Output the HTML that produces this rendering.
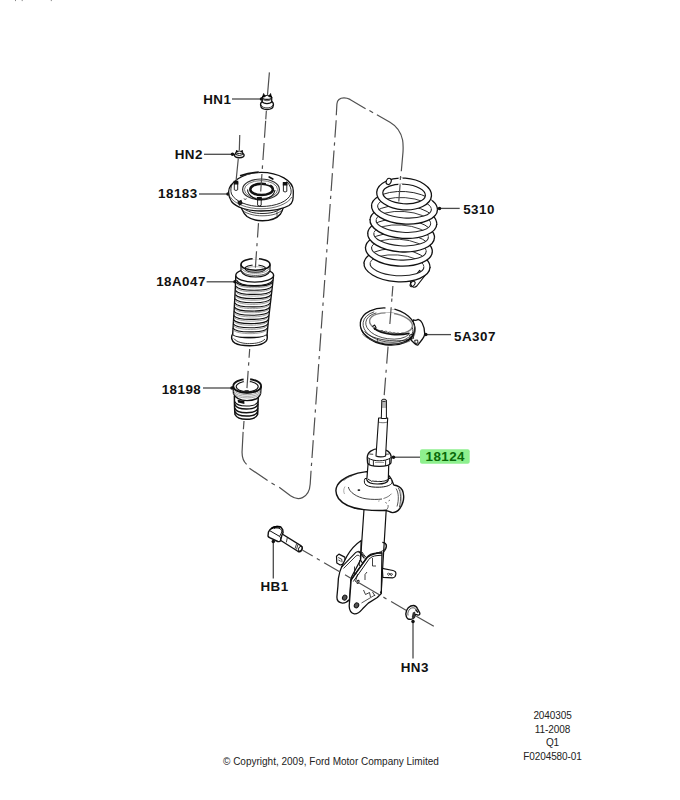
<!DOCTYPE html>
<html><head><meta charset="utf-8"><style>
html,body{margin:0;padding:0;background:#fff;width:680px;height:800px;overflow:hidden}
svg{display:block}
.lb{font-family:"Liberation Sans",sans-serif;font-weight:bold;font-size:13.4px;letter-spacing:0.45px;fill:#111}
.sm{font-family:"Liberation Sans",sans-serif;font-size:10px;letter-spacing:-0.1px;fill:#222}
.ld{stroke:#4a4a4a;stroke-width:1.3;fill:none}
.cl{stroke:#555;stroke-width:1;fill:none;stroke-dasharray:24 3.5 3 3.5}
.o{fill:#fff;stroke-linejoin:round}
.on{fill:none;stroke-linejoin:round}
.t{stroke:#333;stroke-width:.8;fill:none}
</style></head><body>
<svg width="680" height="800" viewBox="0 0 680 800">
<rect width="680" height="800" fill="#fff"/>



<!-- top marks -->
<path d="M15.5 0V1.1M22.2 0V1.1M51.3 0V1.1" stroke="#888" stroke-width="1"/>
<!-- labels -->
<g id="labels">
<text class="lb" x="231.3" y="103.5" text-anchor="end">HN1</text>
<path class="ld" d="M232 99 H262"/><circle cx="261.5" cy="99" r="1.75" fill="#111"/>
<text class="lb" x="202.8" y="158.7" text-anchor="end">HN2</text>
<path class="ld" d="M204 154.3 H233"/><circle cx="232.5" cy="154.3" r="1.75" fill="#111"/>
<text class="lb" x="197.6" y="198.4" text-anchor="end">18183</text>
<path class="ld" d="M199 194 H228"/><circle cx="228" cy="194" r="1.75" fill="#111"/>
<text class="lb" x="205.8" y="286" text-anchor="end">18A047</text>
<path class="ld" d="M206.6 281.8 H235"/><circle cx="235" cy="281.8" r="1.75" fill="#111"/>
<text class="lb" x="201.2" y="393.5" text-anchor="end">18198</text>
<path class="ld" d="M203 388 H232"/><circle cx="232" cy="388" r="1.75" fill="#111"/>

<text class="lb" x="463.2" y="214.3">5310</text>
<path class="ld" d="M439 208.4 H459.7"/><circle cx="439.5" cy="208.4" r="1.75" fill="#111"/>
<text class="lb" x="454.1" y="340.7">5A307</text>
<path class="ld" d="M425.4 334.6 H451"/><circle cx="425.8" cy="334.6" r="1.75" fill="#111"/>
<rect x="420" y="449.3" width="49.7" height="14.5" rx="2" fill="#8ef08e"/>
<text class="lb" x="425.5" y="461.4" style="fill:#0a6a0a">18124</text>
<path class="ld" d="M393 457.2 H420"/><circle cx="393.5" cy="457.2" r="1.75" fill="#111"/>

<text class="lb" x="260.5" y="590.5">HB1</text>
<path class="ld" d="M273.3 541 V578.5"/><circle cx="273.3" cy="541.5" r="1.75" fill="#111"/>
<text class="lb" x="400.7" y="671.5">HN3</text>
<path class="ld" d="M413 621 V658.5"/><circle cx="413" cy="621.5" r="1.75" fill="#111"/>

<text class="sm" x="552.5" y="718.8" text-anchor="middle">2040305</text>
<text class="sm" x="552.5" y="732.5" text-anchor="middle">11-2008</text>
<text class="sm" x="552.5" y="746.2" text-anchor="middle">Q1</text>
<text class="sm" x="552.5" y="760" text-anchor="middle">F0204580-01</text>
<text class="sm" x="223" y="765.1" style="letter-spacing:0">© Copyright, 2009, Ford Motor Company Limited</text>
</g>

<!-- PARTS -->
<g stroke="#111" stroke-width="1.2">
<!-- HN1 nut -->
<g id="hn1">
<path class="o" d="M260.6 104.2 C260.6 101.5 263 100.6 267 100.6 C271 100.6 273.4 101.5 273.4 104.2 L273.3 105.5 C273 108.3 270.5 109.5 267 109.5 C263.5 109.5 261 108.3 260.7 105.5Z" stroke-width="1.4"/>
<path class="on" d="M261.3 105.2 C262 107.2 264.5 107.9 267 107.9 C269.5 107.9 272 107.2 272.7 105.2" stroke-width=".8"/>
<path class="o" d="M262.3 97.3 L262.3 101.8 C263 103.2 265 103.6 267 103.6 C269 103.6 271 103.2 271.7 101.8 L271.7 97.3Z" stroke-width="1.3"/>
<ellipse class="o" cx="267" cy="97.4" rx="4.7" ry="1.9" stroke-width="1.2"/>
<path d="M262.3 97.5 L263.6 93.4 L265.4 96.6Z M268.6 96.6 L270.6 93.4 L271.7 97.5Z" fill="#000" stroke="#000" stroke-width=".6"/>
<path class="on" d="M263.5 100 Q267 101.5 270.5 100" stroke-width=".7"/>
</g>
<!-- HN2 nut -->
<g id="hn2">
<ellipse class="o" cx="239.3" cy="155.3" rx="4.8" ry="2.4" stroke-width="1.4"/>
<path class="o" d="M236 152.2 L236 154.6 Q239.3 156.4 242.6 154.6 L242.6 152.2Z" stroke-width="1"/>
<ellipse class="o" cx="239.3" cy="152.3" rx="3.3" ry="1.2" stroke-width="1"/>
<path d="M235.8 152.4 L236.6 150 L237.8 151.8Z M240.9 151.8 L242.3 150 L242.8 152.4Z" fill="#000" stroke="#000" stroke-width=".5"/>
</g>
<!-- 18183 mount -->
<g id="m18183">
<path class="o" d="M239.5 199 C240 205 242 212 247 216.5 C252 220 258 220.8 262.5 220.8 C268 220.8 276 219.5 280.5 214 C283 210 284.3 205 284.5 199Z" stroke-width="1.4"/>
<path class="on" d="M241.5 207 C247 212 255 213.5 262 213.5 C270 213.5 278 212 283 207" stroke-width=".9"/>
<path class="on" d="M242.5 210.5 C248 214.5 256 215.8 262 215.8 C270 215.8 277 214.5 281.6 210.5" stroke-width=".7"/>
<path class="on" d="M277 211.5 V216" stroke-width=".7"/>
<!-- flange -->
<path class="o" d="M228.6 192 C228.6 183 243 172.3 261 172.3 C279 172.3 293.3 181 293.3 191 C293.3 200 293 203 289 205.5 C282 209.5 272 211 261 211 C248 211 236 207.5 231.5 201.5 C229.5 198.5 228.6 195 228.6 192Z" stroke-width="1.3"/>
<path class="on" d="M232.5 183.5 C230.5 187 230.5 191 231.5 194 C235 201.5 248 206.5 261 206.5 C276 206.5 288 201.5 290.8 194 C291.8 190.5 290.5 185 286.5 181.5" stroke-width=".9"/>
<path class="on" d="M230 196.5 C234 204 248 208.8 261 208.8 C275 208.8 288 204 291.8 197" stroke-width=".6"/>
<path d="M244 174.2 C249 172.9 254 172.4 258.8 172.2 M236 178.5 L233 180.5" stroke="#fff" stroke-width="2" fill="none"/>
<path d="M240 175.8 C246 173.8 252 172.6 258.8 172.1" stroke="#111" stroke-width="1.6" fill="none"/>
<!-- inner rings -->
<ellipse class="on" cx="261" cy="189.4" rx="18.4" ry="10.4" stroke-width="1.2" stroke="#333"/>
<ellipse class="on" cx="261" cy="189.6" rx="16.6" ry="9" stroke-width=".8" stroke="#555"/>
<ellipse class="on" cx="261.6" cy="189.4" rx="11.3" ry="5.7" stroke-width="2.5"/>
<path d="M266 183.4 L270.5 184.6" stroke="#fff" stroke-width="1.2"/>
<path class="on" d="M247.5 189.5 C248 196 255 199.6 261 199.6 C268 199.6 274 196 275 190" stroke-width="1.1"/>
<path d="M269.2 177 L272.8 179" stroke="#111" stroke-width="1.7" stroke-linecap="round"/>
<!-- studs -->
<path class="o" d="M234.3 182 V189.8 Q236 191.2 237.7 189.8 V182Z" stroke-width=".9"/>
<path d="M234.3 181.3 H237.7 V183.8 H234.3Z" fill="#111"/>
<path class="o" d="M283.4 183.5 V191.3 Q285.1 192.7 286.8 191.3 V183.5Z" stroke-width=".9"/>
<path d="M283.4 182.6 H286.8 V185 H283.4Z" fill="#111"/>
<path class="o" d="M257.6 198.5 V205.3 Q259.4 206.7 261.2 205.3 V198.5Z" stroke-width=".9"/>
<path d="M257.6 197.5 H261.2 V200 H257.6Z" fill="#111"/>
<path d="M238 202 L241 200.5 L242 203.5 L239.5 205Z" fill="#222"/>
<path class="on" d="M244 198.5 a1.2 .9 0 1 0 2.4 0" stroke-width=".7"/>
</g>
<!-- 18A047 boot -->
<g id="boot">
<path class="o" d="M235.8 276 C235 300 233.5 320 232.5 337.5 L266.9 337.5 C268 320 271 300 273.5 276Z" stroke-width="1.4"/>
<ellipse class="o" cx="254.7" cy="275.2" rx="18.9" ry="6.9" stroke-width="1.4"/>
<path class="on" d="M236.5 280 C240 287.5 268.5 287.5 273 280" stroke-width="1.1"/>
<path d="M241 264.4 V271 C243 275.5 249 277 255.5 277 C262 277 268 275.5 270 271 V264.4Z" fill="#fff" stroke="none"/><path class="on" d="M241 264.4 V271 C243 275.5 249 277 255.5 277 C262 277 268 275.5 270 271 V264.4" stroke-width="1.2"/>
<path class="on" d="M241.5 270.5 C244 274.6 250 275.4 255.5 275.4 C261 275.4 267 274.6 269.5 270.5" stroke-width=".7"/>
<path class="on" d="M241.5 268 C244 272.5 250 273.3 255.5 273.3 C261 273.3 267 272.5 269.5 268" stroke-width=".7" stroke="#666"/>
<ellipse class="on" cx="255.5" cy="264.4" rx="14.5" ry="5.9" stroke-width="1.6"/>
<ellipse class="on" cx="255.3" cy="268.6" rx="10.3" ry="3.6" stroke-width="1.1"/>
<ellipse class="on" cx="255.3" cy="269.2" rx="9" ry="2.6" stroke-width=".6" stroke="#777"/>
<path d="M252.6 258.5 h6.4 M252.6 265 h5.8" stroke="#fff" stroke-width="2.6"/>
<g id="corr" class="on" stroke-width="1.15">
<path d="M236.29 282.10 C239.29 287.40 269.59 287.40 272.59 282.10"/>
<path d="M235.98 286.27 C238.98 291.57 269.12 291.57 272.12 286.27"/>
<path d="M235.66 290.44 C238.66 295.74 268.65 295.74 271.65 290.44"/>
<path d="M235.34 294.61 C238.34 299.91 268.19 299.91 271.19 294.61"/>
<path d="M235.02 298.78 C238.02 304.08 267.72 304.08 270.72 298.78"/>
<path d="M234.71 302.95 C237.71 308.25 267.25 308.25 270.25 302.95"/>
<path d="M234.39 307.12 C237.39 312.42 266.79 312.42 269.79 307.12"/>
<path d="M234.07 311.29 C237.07 316.59 266.32 316.59 269.32 311.29"/>
<path d="M233.76 315.46 C236.76 320.76 265.85 320.76 268.85 315.46"/>
<path d="M233.44 319.63 C236.44 324.93 265.39 324.93 268.39 319.63"/>
<path d="M233.12 323.80 C236.12 329.10 264.92 329.10 267.92 323.80"/>
<path d="M232.81 327.97 C235.81 333.27 264.45 333.27 267.45 327.97"/>
</g>
<g class="on" stroke-width=".7" stroke="#777">
<path d="M236.56 283.80 C239.56 289.10 269.00 289.10 272.00 283.80"/>
<path d="M236.25 287.97 C239.25 293.27 268.53 293.27 271.53 287.97"/>
<path d="M235.93 292.14 C238.93 297.44 268.06 297.44 271.06 292.14"/>
<path d="M235.61 296.31 C238.61 301.61 267.60 301.61 270.60 296.31"/>
<path d="M235.30 300.48 C238.30 305.78 267.13 305.78 270.13 300.48"/>
<path d="M234.98 304.65 C237.98 309.95 266.66 309.95 269.66 304.65"/>
<path d="M234.66 308.82 C237.66 314.12 266.20 314.12 269.20 308.82"/>
<path d="M234.34 312.99 C237.34 318.29 265.73 318.29 268.73 312.99"/>
<path d="M234.03 317.16 C237.03 322.46 265.26 322.46 268.26 317.16"/>
<path d="M233.71 321.33 C236.71 326.63 264.80 326.63 267.80 321.33"/>
<path d="M233.39 325.50 C236.39 330.80 264.33 330.80 267.33 325.50"/>
<path d="M233.08 329.67 C236.08 334.97 263.86 334.97 266.86 329.67"/>
</g>
<path d="M232.3 334.5 C231 337 231.5 341 235 343.2 C239 345.5 245 345.8 249.6 345.8 C256 345.8 262.5 344.6 265.8 341.5 C267.6 339.5 267.4 336.5 266.6 334.5 C261 339.5 238 339.5 232.3 334.5Z" fill="#fff" stroke="none"/><path class="on" d="M232.3 334.5 C231 337 231.5 341 235 343.2 C239 345.5 245 345.8 249.6 345.8 C256 345.8 262.5 344.6 265.8 341.5 C267.6 339.5 267.4 336.5 266.6 334.5" stroke-width="1.4"/><path class="on" d="M232.6 334.8 C238 339 261 339 266.4 334.8" stroke-width=".9"/>
<path class="on" d="M233.8 338.5 C237 342.6 244 343.6 249.6 343.6 C256 343.6 262 342.4 265 339" stroke-width=".8"/>
</g>
<!-- 18198 bump stop -->
<g id="bump">
<path class="o" d="M234.4 396 C234.4 403 234.6 410 235 414.5 C237 418.4 242 419.3 246.2 419.3 C251 419.3 256 418.2 257.6 414.5 C257.9 410 258 403 258.3 396Z" stroke-width="1.5"/>
<g class="on">
<path d="M234.7 401.5 C237 407.5 256 407.5 258.1 401.5" stroke-width="1.1"/>
<path d="M234.8 404.2 C237 410.6 256 410.6 258 404.2" stroke-width="1.4"/>
<path d="M234.9 408.2 C237 414.2 255.8 414.2 257.9 408.2" stroke-width="1.4"/>
<path d="M235 411.6 C237.2 417.6 255.6 417.6 257.7 411.6" stroke-width="1.5"/>
</g>
<path d="M237.6 399.8 L244.4 401 L244.4 403.9 L238 402.6Z" fill="#111" stroke="none"/>
<path d="M233.1 386 L233.5 393.5 C236 399.6 242 400.6 247 400.6 C253 400.6 259 399 260.6 393.5 L261.1 386Z" fill="#fff" stroke="none"/>
<path class="on" d="M233.1 386 L233.5 393.5 C236 399.6 242 400.6 247 400.6 C253 400.6 259 399 260.6 393.5 L261.1 386" stroke-width="1.4"/>
<g class="on" stroke="#888" stroke-width=".75">
<path d="M233.3 389.5 C236 396.5 258.6 396.5 261 389.5"/>
<path d="M233.4 391.3 C236 398.1 258.5 398.1 260.9 391.3"/>
<path d="M233.5 393 C236 399.6 258.3 399.6 260.7 393"/>
</g>
<path class="on" d="M233.2 387.7 C235.8 394.7 258.6 394.7 261.1 387.7" stroke-width="1"/>
<ellipse class="on" cx="247.2" cy="386" rx="13.9" ry="6.9" stroke-width="1.8"/>
<ellipse class="on" cx="247.2" cy="386.6" rx="11" ry="5.2" stroke-width="1.1"/>
<path d="M243.6 379 L250.1 379 M243.8 381.4 L249.8 381.4" stroke="#fff" stroke-width="2.6"/>
<path d="M243.5 391.8 C245 390.2 248.5 390.2 250 391.8 Z" fill="#222" stroke="#222" stroke-width="1"/>
</g>
<!-- 5310 spring -->
<g id="spring">
<path class="o" d="M419.5 270.5 L410.8 281.5 C410 283.5 411 286.5 413.5 287.2 C415 287.5 416 286.8 416.8 286 L425 275.5Z" stroke-width="1.2"/>
<ellipse class="on" cx="412.6" cy="284" rx="1.9" ry="3.1" transform="rotate(40 412.6 284)" stroke-width="1"/>
<g transform="rotate(4 397.0 265.3)"><path d="M363.97 265.87A33.05 16.45 0 1 1 430.03 265.87L423.93 265.66A26.95 10.35 0 1 0 370.07 265.66Z" fill="#fff" stroke="none"/><path d="M368.97 256.58A33.05 16.45 0 0 1 425.03 256.58" fill="none" stroke="#222" stroke-width=".95"/><path d="M370.15 264.40A26.95 10.35 0 0 1 423.85 264.40" fill="none" stroke="#2a2a2a" stroke-width=".9"/><path d="M363.97 265.87A33.05 16.45 0 0 1 369.60 256.10M424.40 256.10A33.05 16.45 0 0 1 430.03 265.87" fill="none" stroke="#111" stroke-width="1.3"/></g>
<g transform="rotate(4 398.9 249.6)"><path d="M365.47 250.17A33.45 16.45 0 1 1 432.33 250.17L426.23 249.96A27.35 10.35 0 1 0 371.57 249.96Z" fill="#fff" stroke="none"/><path d="M370.53 240.88A33.45 16.45 0 0 1 427.27 240.88" fill="none" stroke="#222" stroke-width=".95"/><path d="M371.65 248.70A27.35 10.35 0 0 1 426.15 248.70" fill="none" stroke="#2a2a2a" stroke-width=".9"/><path d="M365.47 250.17A33.45 16.45 0 0 1 371.17 240.40M426.63 240.40A33.45 16.45 0 0 1 432.33 250.17" fill="none" stroke="#111" stroke-width="1.3"/></g>
<g transform="rotate(4 401.1 235.4)"><path d="M367.67 235.97A33.45 16.45 0 1 1 434.53 235.97L428.43 235.76A27.35 10.35 0 1 0 373.77 235.76Z" fill="#fff" stroke="none"/><path d="M372.73 226.68A33.45 16.45 0 0 1 429.47 226.68" fill="none" stroke="#222" stroke-width=".95"/><path d="M373.85 234.50A27.35 10.35 0 0 1 428.35 234.50" fill="none" stroke="#2a2a2a" stroke-width=".9"/><path d="M367.67 235.97A33.45 16.45 0 0 1 373.37 226.20M428.83 226.20A33.45 16.45 0 0 1 434.53 235.97" fill="none" stroke="#111" stroke-width="1.3"/></g>
<g transform="rotate(4 403.4 221.9)"><path d="M369.97 222.47A33.45 16.45 0 1 1 436.83 222.47L430.73 222.26A27.35 10.35 0 1 0 376.07 222.26Z" fill="#fff" stroke="none"/><path d="M375.03 213.18A33.45 16.45 0 0 1 431.77 213.18" fill="none" stroke="#222" stroke-width=".95"/><path d="M376.15 221.00A27.35 10.35 0 0 1 430.65 221.00" fill="none" stroke="#2a2a2a" stroke-width=".9"/><path d="M369.97 222.47A33.45 16.45 0 0 1 375.67 212.70M431.13 212.70A33.45 16.45 0 0 1 436.83 222.47" fill="none" stroke="#111" stroke-width="1.3"/></g>
<g transform="rotate(4 404.5 207.8)"><path d="M371.47 208.37A33.05 16.25 0 1 1 437.53 208.37L431.43 208.15A26.95 10.15 0 1 0 377.57 208.15Z" fill="#fff" stroke="none"/><path d="M376.47 199.19A33.05 16.25 0 0 1 432.53 199.19" fill="none" stroke="#222" stroke-width=".95"/><path d="M377.65 206.92A26.95 10.15 0 0 1 431.35 206.92" fill="none" stroke="#2a2a2a" stroke-width=".9"/><path d="M371.47 208.37A33.05 16.25 0 0 1 377.10 198.71M431.90 198.71A33.05 16.25 0 0 1 437.53 208.37" fill="none" stroke="#111" stroke-width="1.3"/></g>
<g transform="rotate(4 397.0 265.3)"><path d="M430.03 264.73A33.05 16.45 0 1 1 363.97 264.73L370.07 264.94A26.95 10.35 0 1 0 423.93 264.94Z" fill="#fff" stroke="none"/><path d="M430.03 264.73A33.05 16.45 0 1 1 363.97 264.73" fill="none" stroke="#111" stroke-width="1.3"/><path d="M423.88 264.58A26.95 10.35 0 1 1 370.12 264.58" fill="none" stroke="#222" stroke-width="1.05"/></g>
<g transform="rotate(4 398.9 249.6)"><path d="M432.33 249.03A33.45 16.45 0 1 1 365.47 249.03L371.57 249.24A27.35 10.35 0 1 0 426.23 249.24Z" fill="#fff" stroke="none"/><path d="M432.33 249.03A33.45 16.45 0 1 1 365.47 249.03" fill="none" stroke="#111" stroke-width="1.3"/><path d="M426.18 248.88A27.35 10.35 0 1 1 371.62 248.88" fill="none" stroke="#222" stroke-width="1.05"/></g>
<g transform="rotate(4 401.1 235.4)"><path d="M434.53 234.83A33.45 16.45 0 1 1 367.67 234.83L373.77 235.04A27.35 10.35 0 1 0 428.43 235.04Z" fill="#fff" stroke="none"/><path d="M434.53 234.83A33.45 16.45 0 1 1 367.67 234.83" fill="none" stroke="#111" stroke-width="1.3"/><path d="M428.38 234.68A27.35 10.35 0 1 1 373.82 234.68" fill="none" stroke="#222" stroke-width="1.05"/></g>
<g transform="rotate(4 403.4 221.9)"><path d="M436.83 221.33A33.45 16.45 0 1 1 369.97 221.33L376.07 221.54A27.35 10.35 0 1 0 430.73 221.54Z" fill="#fff" stroke="none"/><path d="M436.83 221.33A33.45 16.45 0 1 1 369.97 221.33" fill="none" stroke="#111" stroke-width="1.3"/><path d="M430.68 221.18A27.35 10.35 0 1 1 376.12 221.18" fill="none" stroke="#222" stroke-width="1.05"/></g>
<g transform="rotate(4 404.5 207.8)"><path d="M437.53 207.23A33.05 16.25 0 1 1 371.47 207.23L377.57 207.45A26.95 10.15 0 1 0 431.43 207.45Z" fill="#fff" stroke="none"/><path d="M437.53 207.23A33.05 16.25 0 1 1 371.47 207.23" fill="none" stroke="#111" stroke-width="1.3"/><path d="M431.38 207.09A26.95 10.15 0 1 1 377.62 207.09" fill="none" stroke="#222" stroke-width="1.05"/></g>
<g transform="rotate(4 404.1 194.0)"><path d="M431.55 194.00A27.45 15.85 0 1 1 431.55 193.97ZM425.45 194.00A21.35 9.75 0 1 1 425.45 193.98Z" fill="#fff" fill-rule="evenodd" stroke="none"/><ellipse cx="404.1" cy="194.0" rx="27.45" ry="15.850000000000001" fill="none" stroke="#111" stroke-width="1.3"/><ellipse cx="404.1" cy="194.0" rx="21.349999999999998" ry="9.75" fill="none" stroke="#111" stroke-width="1.2"/></g>
<ellipse class="o" cx="388.7" cy="181.4" rx="2.4" ry="3.2" transform="rotate(25 388.7 181.4)" stroke-width="1.1"/>
<path d="M398.6 178.2 L402.6 178.5 M398.4 184.3 L402.2 184.6" stroke="#fff" stroke-width="2"/>
<path d="M400.6 176 L400.3 180" stroke="#505050" stroke-width="1.2"/>
</g>
<!-- 5A307 seat -->
<g id="seat">
<path class="o" d="M413.3 319.8 C414.5 320.8 416.5 320.4 418.2 319.4 C420 320 421.5 321.5 422.2 323 C423.8 326 424.7 330 424.7 333.8 C424.5 336 423.5 338 422.5 339 L417.8 345.1 C416.5 345.2 415.6 344.6 414.6 343.5 L411 340Z" stroke-width="1.3"/>
<ellipse class="o" cx="387.8" cy="327.4" rx="27.2" ry="17.5" transform="rotate(8 387.8 327.4)" stroke-width="1.4"/>
<ellipse class="o" cx="387.5" cy="326.2" rx="27.4" ry="18" transform="rotate(8 387.5 326.2)" stroke-width="1.3"/>
<ellipse class="on" cx="388.3" cy="326.2" rx="25.4" ry="15.8" transform="rotate(8 388.3 326.2)" stroke-width=".7" pathLength="360" stroke-dasharray="0 25 200 135"/>
<ellipse class="on" cx="389.2" cy="325.4" rx="23.6" ry="13.4" transform="rotate(8 389.2 325.4)" stroke-width=".7" pathLength="360" stroke-dasharray="0 20 205 135"/>
<ellipse class="on" cx="391" cy="323.4" rx="21.6" ry="10.2" transform="rotate(8 391 323.4)" stroke-width="1.4" stroke="#808080"/>
<path d="M385.5 307.8 L394.5 308.6 M385.5 313.6 L394 314.4" stroke="#fff" stroke-width="2.4"/>
<path class="on" d="M373.8 328.2 C378 331.8 385 333.8 392 334.5 C398 335 404 334.6 409.5 333.2" stroke-width="1.7"/>
<path class="on" d="M380 331.4 C381.5 330 383 330.3 384 331.8 C385.5 330.8 387 331 388 332.6 C389.5 331.6 391 332 392 333.2 C393.5 332.4 395 332.6 396 333.5 C397.5 332.8 399 333 400 333.8 C401.5 333 403 333 404.2 333.6" stroke-width=".7"/>
<path class="on" d="M372.4 326.6 L374.6 325 L376 327.6 L374.4 329.8" stroke-width="1.1"/>
<path class="on" d="M364.5 331.5 C370 337.6 382 340.4 394 340.8 C401 341 407 340 410.5 338.6" stroke-width=".8"/>
<path class="on" d="M362.2 334 C368 340.5 380 343 393 343.4 C400 343.5 406 342.6 410 341.2" stroke-width=".6" stroke="#555"/>
<path class="on" d="M412.2 327.5 C413.5 330 413 333 411 335.5" stroke-width=".8"/>
<path class="on" d="M414.6 325.5 C415.8 329.5 415.4 334 413.4 337.3" stroke-width=".8" stroke="#666"/>
<path class="on" d="M409.6 335 L412.8 334 L413.6 338.4 L410.4 339.4Z M414.7 340.3 L417.6 340 L418 343 L415.2 343.6Z" stroke-width=".9"/>
<path class="on" d="M377.6 338.8 L377.2 341.8" stroke-width=".7"/>
</g>
<!-- 18124 strut -->
<g id="strut">
<!-- lower tube -->
<path class="o" d="M364.3 505 L360.5 560 L381.2 592 L386.5 505Z" stroke-width="1.2"/>
<path class="on" d="M382.3 542.4 C386 542.5 387.5 545.5 386 548.5 C385 550.5 384 551.8 382.9 552.6" stroke-width="1.1"/>
<!-- left tab -->
<path class="o" d="M336.5 556.3 L338.9 554.1 L344.8 557.1 L345.3 563.2 L340.2 565 L336.8 562.9Z" stroke-width="1.2"/>
<path class="on" d="M338.2 557.5 L341.8 559.3 L342 562.3 M338.4 560 L340.6 561.2" stroke-width=".8"/>
<!-- right tab -->
<path class="o" d="M382.3 568.3 L393 570.5 C395.3 571 396.2 572.6 395.8 574.5 C395.5 576.5 394.7 577.8 392.5 577.8 L382.9 577.3Z" stroke-width="1.2"/>
<path class="on" d="M388.6 573.2 a1 1 0 1 0 0.1 0 M391.2 573.5 a1 1 0 1 0 0.1 0" stroke-width=".8"/>
<!-- back (left) ear -->
<path class="o" d="M361.2 540.5 C356 544 350.5 550 347 556 L342.4 565 C340.5 569 339 574 338.4 578.4 L337.9 586.3 L336.9 597 C336.8 600.5 339 602.7 342.4 603.1 C345 603.2 347.5 601.8 349.5 599.5 L351 578 L360.5 560Z" stroke-width="1.3"/>
<!-- front (right) ear -->
<path class="o" d="M351.2 579.5 L349.2 606 C349.3 610 351 613.2 354.3 613.9 C357.2 614.3 360.2 611.6 362.6 608.8 L368.3 603.1 L377.3 597.5 L381.3 593.5 L382 552.8 C376.5 552.8 371 554.5 367.2 557.5Z" stroke-width="1.3"/>
<!-- strap / web edges -->
<path class="on" d="M341.6 567.2 L355.6 552.6 C357.2 551.2 359 551.4 360.3 553.2 L364.4 558.5" stroke-width="1.1"/>
<path class="on" d="M343.5 568.5 L356 556 C357.3 554.8 358.8 555 359.8 556.3" stroke-width=".8"/>
<path class="on" d="M350.8 580.6 L366.8 557.3 C369 554.6 372 553.4 376 553.1 L382 552.7" stroke-width="1.1"/>
<path class="on" d="M353.3 581.5 L368.7 559.6 C370.7 557 373.3 556 377 555.6 L382 555.2" stroke-width="1"/>
<path class="on" d="M354.5 566.5 V575 L356.5 573 M357.5 574 L355.5 582 M359.7 560 L359.5 566 M372.5 558 L372.5 566 L376 566 M367 572 L365 574.5 V580" stroke-width=".8"/>
<path class="on" d="M363.5 590 L365.5 594.5 L369.5 592.5 L370.5 597 M372.5 592 L375 596" stroke-width=".8"/>
<path class="on" d="M361.5 603 L375 595" stroke-width=".7"/>
<path d="M381.3 590 L381.5 594 L379.8 592.5Z" fill="#111" stroke="none"/>
<!-- holes -->
<ellipse cx="344.7" cy="597.6" rx="2.1" ry="2.6" transform="rotate(30 344.7 597.6)" fill="#555" stroke="#111" stroke-width="1"/>
<ellipse cx="356.5" cy="605.4" rx="2.1" ry="2.6" transform="rotate(30 356.5 605.4)" fill="#555" stroke="#111" stroke-width="1"/>
<ellipse class="on" cx="358" cy="581.8" rx="1" ry="1.6" transform="rotate(20 358 581.8)" stroke-width="1.1"/>
<path class="on" d="M376 553.2 C379 552.6 382 551.5 384.5 549.5 C386.5 547.5 386.8 544.5 385 543" stroke-width="1"/>
<path class="on" d="M357.5 551.6 C359 551 360.5 551.6 361.5 553 L364.8 557.6 M362 552 C363 553.5 364.5 556 366.5 557.5" stroke-width=".9"/>
<!-- spring seat plate -->
<path class="o" d="M366.5 471.6 C355 472.5 342 478 337.5 485 C335 489.5 335.5 494 338.5 498.5 C343 504.5 353 508.5 363.9 509.6 C372 510.5 380 510.7 386 510.3 C388.5 511 390.5 512.5 392.6 512.6 C395.5 512.6 398 511 399.8 508.5 C402.5 504.5 404 499.5 403.6 495.5 C403.3 491 401.5 488 399.2 486.8 C397 485.6 395 485.2 393.7 484.9 C392.5 481 391 478 389.2 476Z" stroke-width="1.4"/>
<path class="on" d="M343.5 481 C345.5 478.5 348.5 477 352 476" stroke-width=".7" stroke="#666"/>
<path class="on" d="M345 486.5 C343.5 489 343.3 491.5 344.5 494" stroke-width=".6" stroke="#777"/>
<path class="on" d="M348.4 487 C349 492 357 497.5 366 498.8 C372 499.6 378 499.6 382 499" stroke-width=".8"/>
<path class="on" d="M383.5 498.5 C387 497.5 389.8 495.8 391.5 493.7" stroke-width=".8" stroke="#555"/>
<path class="on" d="M396 488.5 C398.8 492.5 399 500 397 506.5" stroke-width=".7"/>
<path class="on" d="M398.2 487.8 C401 492 401.2 500 399.4 507" stroke-width=".7"/>
<path class="on" d="M399.8 488.5 C402 493 402 500.5 400.6 506.5" stroke-width=".5" stroke="#777"/>
<path class="on" d="M386 510.3 C388 508.5 388.5 506.5 388 505" stroke-width=".6"/>
<ellipse cx="358.9" cy="490.1" rx="1.4" ry="0.9" fill="#111" stroke="none"/>
<path class="on" d="M379 500.5 l-.2 1 M385.5 502 l1 1.5 M388.5 501 l1.5 -1" stroke-width=".6"/>
<!-- boss around tube -->
<path class="o" d="M365 478.5 C363.8 481 364.2 483.5 366 485 C369 487 374 487.3 379.3 487.2 C385 487 389.5 485.8 391.5 483.7 C392.6 482 392 480 390.5 478.5Z" stroke-width="1"/>
<!-- upper tube -->
<path class="o" d="M368.2 462 L366.8 480 C368 483 372 484 377.5 484 C383 484 387.5 483 388.3 480 L388.8 462Z" stroke-width="1.2"/>
<path class="on" d="M368 479 C369.5 480.5 370.5 480 371.5 481.3 C373 480.5 374.5 481.8 376 481.2 C378 482 379.5 481 381 481.6 C383 481 384.5 481.4 386 480.5 C387 480.2 388 479.5 388.6 478.5" stroke-width="1"/>
<!-- top cap -->
<path class="o" d="M367.2 458 C367.2 452 372.5 448.7 379.2 448.7 C386 448.7 391.3 452 391.3 458 L390.9 463 C389.8 465.6 385 466.3 379.2 466.3 C373.4 466.3 368.6 465.6 367.6 463 Z" stroke-width="1.3"/>
<path class="on" d="M367.6 457.6 C371 460 375 460.8 379.2 460.8 C383.5 460.8 387.5 460 391 457.6" stroke-width="1"/>
<path class="on" d="M369.2 459 V464.2 M373.4 460.3 V466 M385.6 460.3 V466 M389.6 459 V464.2" stroke-width=".9"/>
<path class="on" d="M369.3 454 L373.2 454.3 M385.4 454.3 L389.2 454" stroke-width=".8"/>
<path class="on" d="M375 462.5 H384" stroke-width=".8" stroke="#888"/>
<!-- rod -->
<path class="o" d="M378.6 418 L376 456 C378 457.2 383 457.2 385.6 456 L387.7 418Z" stroke-width="1.1"/>
<path class="on" d="M378.3 422 C381 423 385 423 387.4 422" stroke-width=".6"/>
<path class="o" d="M381.8 400.5 L381.3 418.5 L386.4 418.5 L386.4 400.5Z" stroke-width="1"/>
<ellipse class="o" cx="384" cy="400.3" rx="2.4" ry="1.1" stroke-width="1"/>
<path class="on" d="M381.7 403 h4.7 M381.7 405 h4.7 M381.6 407 h4.8" stroke-width=".6"/>
</g>
<!-- HB1 bolt -->
<g id="hb1">
<path class="o" d="M279.4 532.3 L300.8 545.6 C303 547 302.9 550.5 300.3 551.6 C299.5 551.9 298.6 551.7 297.8 551.3 L280.4 540.2Z" stroke-width="1.3"/>
<ellipse class="on" cx="300.3" cy="548.6" rx="1.5" ry="2.6" transform="rotate(32 300.3 548.6)" stroke-width=".9"/>
<path class="on" d="M296.6 543.8 L295 548.6 M297.9 544.6 L296.5 549.4" stroke-width=".8"/>
<path class="on" d="M287.4 537.4 L286.3 542.4" stroke-width=".8"/>
<path class="o" d="M268 536 L268.4 532.2 L270 529.6 L273 527.4 L276.8 526.4 L280.8 527 L282.7 529.6 L283.1 532.5 L281.8 535.5 L280.6 540.4 C280.2 541.4 279 541.8 277.8 541.5 L269.6 537.6 C268.8 537.2 268.2 536.8 268 536Z" stroke-width="1.4"/>
<path class="on" d="M269.6 530.6 L279.6 536.4 C280.4 537 280.7 538 280.5 539.5 M279.6 536.4 L282.4 531.2" stroke-width="1"/>
<path class="on" d="M273.8 528.6 C275.5 527.6 278.5 527.7 280.5 529 C281.8 530 282 531.4 281.6 532.6" stroke-width="1"/>
<path d="M271.2 528.6 C273.5 526.8 277 526.2 280.5 526.8" stroke="#000" stroke-width="1.7" fill="none"/>
</g>
<!-- HN3 nut -->
<g id="hn3">
<path class="o" d="M406.4 616.8 C404.9 613 406.8 607.6 410.8 606 C413.8 604.9 416.4 606.2 417.4 608.6 L419.8 613 C420.2 614.6 419 615.6 417.3 614.8 L415.6 614.3 L414.4 617.4 C413.2 619.3 410.2 619.7 408.2 619 C407.4 618.6 406.8 617.8 406.4 616.8Z" stroke-width="1.4"/>
<path class="on" d="M408 615.5 C407.2 612.5 408.8 609 411.5 608 C413.5 607.4 415.2 608 416 609.5" stroke-width=".7"/>
<path d="M412.8 612.5 L415.2 611.4 L415 617 L413 619.5 L411.8 617Z" fill="#333" stroke="none"/>
<path class="on" d="M415.5 609.5 L418 612.6" stroke-width="1.3"/>
</g>
</g>
<!-- centerlines -->
<path d="M311.63 462.75L311.39 466.05M313.25 440.15L311.97 457.95M314.87 417.55L313.59 435.35M315.46 409.35L315.22 412.65M317.08 386.75L315.80 404.55M318.70 364.15L317.42 381.95M319.28 355.95L319.05 359.25M320.90 333.35L319.63 351.15M322.53 310.75L321.25 328.55M323.11 302.55L322.88 305.85M324.73 279.95L323.46 297.75M326.35 257.35L325.08 275.15M326.94 249.15L326.71 252.45M328.56 226.55L327.29 244.35M330.18 203.95L328.91 221.75M330.77 195.75L330.53 199.05M332.39 173.15L331.11 190.95M334.01 150.55L332.74 168.35M334.60 142.35L334.36 145.65M336.18 120.30L334.94 137.55M336.3 115.2L336.9 104C337.3 99.8 340 97.9 344 97.9C346.3 97.9 348.3 98.5 350 99.4L365.6 108.75M369.4 110.6L373.1 112.8M376.9 114.8L390 122.2C396.5 126 401 132 402.6 140C403.3 144 403.2 148 403 152L401.3 171.3M311.05 470.8L310.2 484C309.8 490.5 307 495.5 302.5 497.6C299 499.2 294.5 498.6 290.5 495.8L279.2 487.2M274.8 485L271.5 483.1M267.6 480.6L249.4 468.2M246.6 464.4C243 461 241.8 456.5 242.1 451L243.1 431.9M243.4 429.3L244 421M269.4 72.4L267.4 95.9M266.37 110.70L265.76 119.40M265.67 120.70L264.47 137.80M264.11 143.00L262.92 160.00M262.54 165.40L262.30 168.90M261.94 174.00L260.71 191.50M258.50 223.10L257.50 237.50M257.10 243.10L256.88 246.25M256.53 251.25L255.39 267.60M249.69 349.00L249.07 357.80M248.77 362.20L248.53 365.60M248.16 370.90L246.95 388.10M239.75 135L239.3 150.5M238.3 158.5L236.1 180.5M400.1 184.3L398.8 201.5M392.88 286.00L392.04 296.50M391.88 298.50L391.63 301.75M391.19 307.25L389.85 324.00M388.06 346.60L386.70 363.60M386.22 369.70L385.97 372.80M385.59 377.60L384.20 395.10M302.70 550.30L312.70 556.10M316.80 558.48L319.80 560.22M324.10 562.71L339.20 571.47M345.00 574.83L350.40 577.97M359.20 583.07L379.80 595.02M383.40 597.11L386.50 598.90M391.10 601.57L406.00 610.21M416.30 616.19L433.80 626.34" fill="none" stroke="#505050" stroke-width="1.2" stroke-linecap="butt"/>

</svg>
</body></html>
